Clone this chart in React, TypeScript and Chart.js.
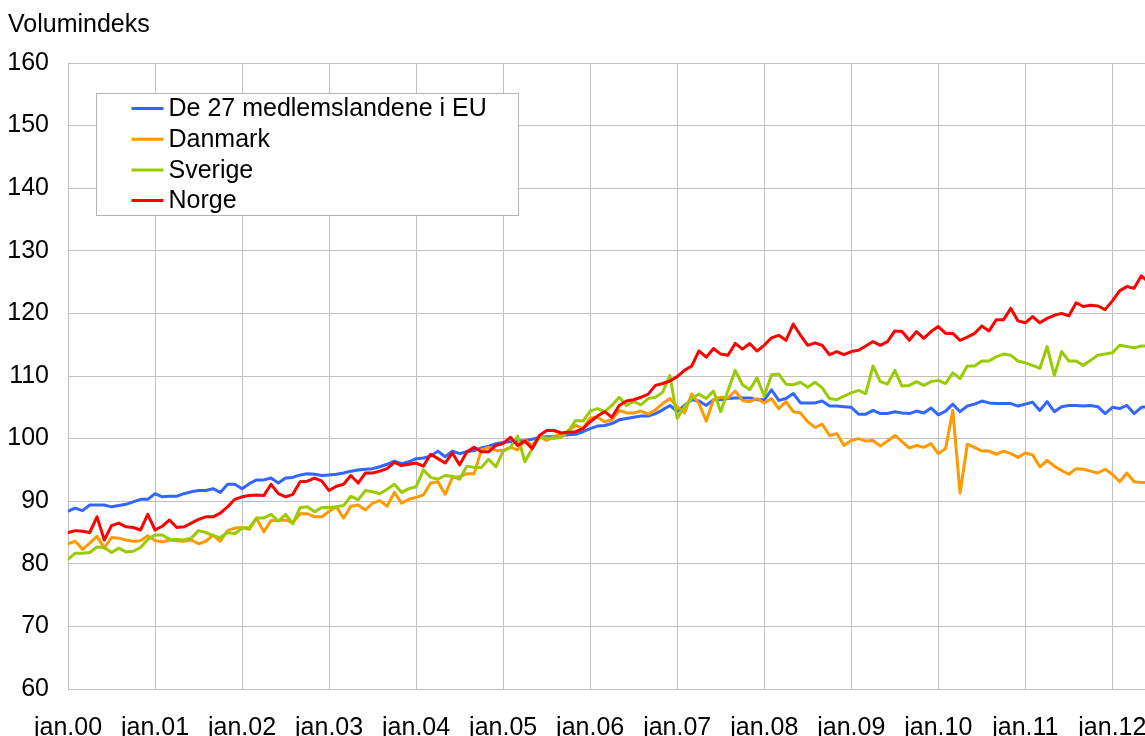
import React, { useEffect, useRef } from "react";
import { Chart, registerables } from "chart.js";

Chart.register(...registerables);

const yAxisTitle = "Volumindeks";
const tickLabels = [
  "jan.00", "jan.01", "jan.02", "jan.03", "jan.04", "jan.05", "jan.06",
  "jan.07", "jan.08", "jan.09", "jan.10", "jan.11", "jan.12",
];
const seriesNames = ["De 27 medlemslandene i EU", "Danmark", "Sverige", "Norge"];
const seriesColors = ["#3366ff", "#ff9900", "#99cc00", "#ff0000"];

// Monthly values, jan.00 .. jun.12
const euValues = [
  88.4, 88.9, 88.5, 89.4, 89.4, 89.4, 89.1, 89.3, 89.5, 89.9, 90.3, 90.3,
  91.2, 90.7, 90.8, 90.8, 91.2, 91.5, 91.7, 91.7, 92.0, 91.4, 92.7, 92.7,
  92.0, 92.8, 93.4, 93.4, 93.7, 92.9, 93.7, 93.8, 94.2, 94.4, 94.3, 94.1,
  94.2, 94.3, 94.5, 94.8, 95.0, 95.1, 95.2, 95.5, 95.9, 96.4, 96.0, 96.3,
  96.8, 96.9, 97.2, 98.0, 97.1, 98.0, 97.6, 97.9, 98.1, 98.5, 98.8, 99.2,
  99.4, 99.5, 99.6, 99.7, 99.9, 100.2, 100.3, 100.3, 100.5, 100.6, 100.7, 101.1,
  101.6, 102.0, 102.1, 102.4, 103.0, 103.2, 103.4, 103.6, 103.6, 104.0, 104.6, 105.3,
  104.3, 105.3, 106.2, 106.0, 105.3, 106.2, 106.2, 106.4, 106.5, 106.5, 106.5, 106.2,
  106.2, 107.8, 106.1, 106.4, 107.2, 105.7, 105.7, 105.7, 106.0, 105.2, 105.2, 105.1,
  105.0, 103.9, 103.9, 104.5, 104.0, 104.0, 104.3, 104.1, 104.0, 104.4, 104.1, 104.9,
  103.8, 104.4, 105.5, 104.3, 105.2, 105.5, 106.0, 105.7, 105.6, 105.6, 105.6, 105.2,
  105.5, 105.8, 104.5, 105.9, 104.3, 105.1, 105.3, 105.3, 105.2, 105.3, 105.1, 104.0,
  105.0, 104.8, 105.3, 104.0, 105.0, 105.1,
];
const danmarkValues = [
  83.2, 83.6, 82.3, 83.3, 84.4, 82.5, 84.2, 84.1, 83.8, 83.6, 83.7, 84.5,
  83.7, 83.5, 83.8, 83.7, 83.6, 83.8, 83.2, 83.6, 84.6, 83.6, 85.3, 85.7,
  85.8, 85.5, 87.3, 85.1, 86.9, 86.9, 87.0, 86.6, 88.0, 88.0, 87.5, 87.5,
  88.4, 89.1, 87.3, 89.2, 89.4, 88.6, 89.7, 90.1, 89.2, 91.4, 89.7, 90.3,
  90.6, 91.0, 92.9, 93.1, 91.1, 93.8, 93.9, 94.4, 94.4, 98.2, 98.6, 98.1,
  98.1, 98.6, 98.2, 99.8, 98.9, 100.3, 99.7, 100.3, 100.7, 101.3, 102.1, 101.6,
  103.3, 103.4, 102.7, 103.0, 104.5, 104.1, 104.1, 104.4, 103.9, 104.6, 105.6, 106.4,
  105.1, 104.1, 107.1, 105.6, 102.8, 106.2, 106.6, 106.5, 107.6, 106.1, 105.9, 106.4,
  105.7, 106.4, 104.8, 105.9, 104.3, 104.1, 102.7, 101.8, 102.3, 100.5, 100.8, 98.9,
  99.7, 100.0, 99.6, 99.7, 98.8, 99.6, 100.5, 99.5, 98.5, 98.9, 98.6, 99.2,
  97.6, 98.4, 104.5, 91.3, 99.1, 98.6, 98.0, 98.0, 97.5, 98.0, 97.6, 97.0,
  97.7, 97.4, 95.5, 96.5, 95.6, 94.9, 94.3, 95.2, 95.1, 94.8, 94.5, 95.1,
  94.3, 93.1, 94.5, 93.1, 93.0, 93.0,
];
const sverigeValues = [
  80.7, 81.7, 81.7, 81.8, 82.7, 82.6, 81.8, 82.5, 81.9, 82.0, 82.6, 83.9,
  84.6, 84.6, 83.9, 83.9, 83.8, 84.1, 85.3, 85.0, 84.5, 84.2, 85.0, 84.8,
  85.7, 85.8, 87.3, 87.3, 87.9, 86.8, 87.9, 86.4, 89.0, 89.1, 88.3, 89.0,
  89.0, 89.1, 89.3, 90.8, 90.2, 91.7, 91.5, 91.2, 91.9, 92.7, 91.4, 92.0,
  92.3, 95.0, 93.8, 93.5, 94.1, 94.0, 93.5, 95.6, 95.4, 95.4, 96.7, 95.5,
  98.0, 98.6, 100.4, 96.3, 98.4, 100.2, 100.1, 100.0, 100.2, 101.2, 102.9, 102.8,
  104.4, 104.8, 104.3, 105.3, 106.6, 105.3, 105.9, 105.4, 106.4, 106.6, 107.4, 110.1,
  103.2, 105.1, 106.4, 107.1, 106.4, 107.6, 104.3, 107.7, 110.9, 108.6, 107.8, 109.7,
  106.8, 110.2, 110.3, 108.7, 108.6, 109.0, 108.2, 109.0, 108.1, 106.4, 106.2, 106.8,
  107.3, 107.7, 107.2, 111.6, 109.1, 108.7, 110.9, 108.4, 108.5, 109.1, 108.5, 109.1,
  109.3, 108.8, 110.5, 109.6, 111.6, 111.6, 112.4, 112.4, 113.1, 113.5, 113.3, 112.4,
  112.1, 111.7, 111.2, 114.7, 110.1, 113.9, 112.4, 112.4, 111.7, 112.5, 113.3, 113.5,
  113.7, 114.9, 114.7, 114.5, 114.8, 114.8,
];
const norgeValues = [
  85.0, 85.3, 85.2, 85.0, 87.5, 83.8, 86.1, 86.5, 85.9, 85.8, 85.4, 87.9,
  85.4, 86.0, 87.0, 85.8, 85.9, 86.5, 87.1, 87.5, 87.5, 88.1, 89.1, 90.3,
  90.7, 90.9, 91.0, 90.9, 92.7, 91.2, 90.7, 91.1, 93.1, 93.2, 93.7, 93.2,
  91.7, 92.4, 92.7, 94.1, 92.9, 94.5, 94.5, 94.8, 95.2, 96.2, 95.7, 95.9,
  96.1, 95.6, 97.5, 96.8, 96.1, 97.7, 95.8, 97.9, 98.6, 97.9, 97.9, 98.9,
  99.2, 100.2, 98.9, 99.6, 98.4, 100.5, 101.3, 101.3, 100.9, 101.0, 101.1, 101.6,
  102.7, 103.6, 104.3, 103.4, 105.3, 106.0, 106.2, 106.6, 107.1, 108.5, 108.8, 109.2,
  109.9, 110.9, 111.6, 114.0, 113.0, 114.4, 113.5, 113.3, 115.2, 114.3, 115.2, 114.0,
  114.9, 116.1, 116.5, 115.7, 118.3, 116.5, 114.9, 115.3, 114.9, 113.4, 113.9, 113.4,
  113.9, 114.1, 114.8, 115.5, 114.9, 115.5, 117.2, 117.1, 115.7, 117.1, 116.0, 117.1,
  117.9, 116.8, 116.8, 115.7, 116.2, 116.8, 118.0, 117.2, 119.0, 119.0, 120.8, 118.8,
  118.5, 119.5, 118.5, 119.2, 119.7, 120.0, 119.6, 121.7, 121.1, 121.3, 121.2, 120.6,
  122.0, 123.6, 124.3, 124.0, 126.0, 125.0,
];

const allSeries = [euValues, danmarkValues, sverigeValues, norgeValues];

const FONT_FAMILY = "'Liberation Sans', Arial, sans-serif";
const FONT_SIZE = 25;
const GRID = "#c0c0c0";

const decorPlugin = {
  id: "decor",
  afterDatasetsDraw(chart: any) {
    const ctx = chart.ctx as CanvasRenderingContext2D;
    const area = chart.chartArea;
    ctx.save();
    const bx = Math.round(area.left + 28) + 0.5;
    const by = Math.round(area.top + 30) + 0.5;
    const bw = 422;
    const bh = 122;
    ctx.fillStyle = "#ffffff";
    ctx.fillRect(bx, by, bw, bh);
    ctx.strokeStyle = "#b4b4b4";
    ctx.lineWidth = 1;
    ctx.strokeRect(bx, by, bw, bh);
    ctx.font = `${FONT_SIZE}px ${FONT_FAMILY}`;
    ctx.textBaseline = "middle";
    ctx.textAlign = "left";
    chart.data.datasets.forEach((ds: any, i: number) => {
      const cy = by + 15 + i * 30.7;
      ctx.strokeStyle = ds.borderColor;
      ctx.lineWidth = 3;
      ctx.beginPath();
      ctx.moveTo(bx + 35, cy);
      ctx.lineTo(bx + 67, cy);
      ctx.stroke();
      ctx.fillStyle = "#000000";
      ctx.fillText(ds.label, bx + 72, cy + 1);
    });
    ctx.restore();
  },
  afterDraw(chart: any) {
    const ctx = chart.ctx as CanvasRenderingContext2D;
    ctx.save();
    ctx.font = `${FONT_SIZE}px ${FONT_FAMILY}`;
    ctx.fillStyle = "#000000";
    ctx.textAlign = "left";
    ctx.textBaseline = "alphabetic";
    ctx.fillText(yAxisTitle, 8, 32);
    ctx.restore();
  },
};

export default function App() {
  const canvasRef = useRef<HTMLCanvasElement | null>(null);

  useEffect(() => {
    if (!canvasRef.current) return;
    const chart = new Chart(canvasRef.current, {
      type: "line",
      data: {
        datasets: allSeries.map((values, i) => ({
          label: seriesNames[i],
          data: values.map((v, idx) => ({ x: idx, y: v })),
          borderColor: seriesColors[i],
          backgroundColor: seriesColors[i],
          borderWidth: 3,
          pointRadius: 0,
          tension: 0,
          fill: false,
          borderJoinStyle: "round",
          borderCapStyle: "round",
          order: allSeries.length - i,
        })),
      },
      options: {
        animation: false,
        responsive: false,
        events: [],
        layout: { padding: { left: 8, right: 0, top: 63, bottom: 0 } },
        plugins: {
          legend: { display: false },
          tooltip: { enabled: false },
          title: { display: false },
        },
        scales: {
          x: {
            type: "linear",
            min: 0,
            max: 148.5,
            afterFit: (scale: any) => {
              scale.height = 47;
              scale.paddingLeft = 0;
              scale.paddingRight = 0;
            },
            grid: { color: GRID, drawTicks: false, lineWidth: 1 },
            border: { color: GRID, width: 1 },
            ticks: {
              stepSize: 12,
              includeBounds: false,
              autoSkip: false,
              maxRotation: 0,
              minRotation: 0,
              padding: 24,
              color: "#000000",
              font: { family: FONT_FAMILY, size: FONT_SIZE },
              callback: (value: any) => {
                const k = Math.round(Number(value) / 12);
                return Number(value) % 12 === 0 && tickLabels[k] ? tickLabels[k] : "";
              },
            },
          },
          y: {
            type: "linear",
            min: 60,
            max: 160,
            afterFit: (scale: any) => {
              scale.width = 60;
              scale.paddingTop = 0;
              scale.paddingBottom = 0;
            },
            grid: { color: GRID, drawTicks: false, lineWidth: 1 },
            border: { color: GRID, width: 1 },
            ticks: {
              stepSize: 10,
              padding: 19,
              color: "#000000",
              font: { family: FONT_FAMILY, size: FONT_SIZE },
            },
          },
        },
      },
      plugins: [decorPlugin],
    } as any);
    return () => chart.destroy();
  }, []);

  return (
    <div style={{ position: "absolute", left: 0, top: 0, width: 1145, height: 736, background: "#ffffff", overflow: "hidden" }}>
      <canvas ref={canvasRef} width={1145} height={736} style={{ display: "block" }} />
    </div>
  );
}
